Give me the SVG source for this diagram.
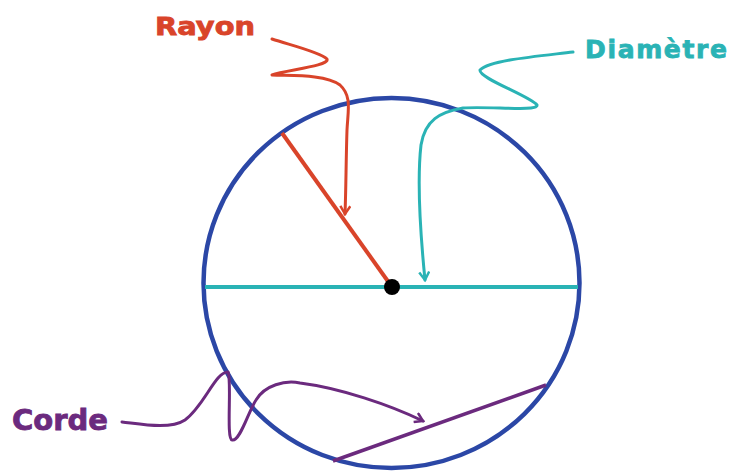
<svg xmlns="http://www.w3.org/2000/svg" width="736" height="472" viewBox="0 0 736 472">
<defs>
<style>
.lbl{font-family:"DejaVu Sans","Liberation Sans",sans-serif;font-weight:bold;stroke-width:0.8;}
.cn{fill:none;stroke-width:3;stroke-linecap:round;stroke-linejoin:round;}
</style>
<marker id="arR" markerWidth="12" markerHeight="12" refX="9" refY="6" orient="auto" markerUnits="userSpaceOnUse"><path d="M1,1 L9,6 L1,11" fill="none" stroke="#d9442a" stroke-width="2.5"/></marker>
<marker id="arT" markerWidth="12" markerHeight="12" refX="9" refY="6" orient="auto" markerUnits="userSpaceOnUse"><path d="M1,1 L9,6 L1,11" fill="none" stroke="#2ab3b5" stroke-width="2.5"/></marker>
<marker id="arP" markerWidth="12" markerHeight="12" refX="9" refY="6" orient="auto" markerUnits="userSpaceOnUse"><path d="M1,1 L9,6 L1,11" fill="none" stroke="#6b2a7e" stroke-width="2.5"/></marker>
</defs>
<rect width="736" height="472" fill="#ffffff"/>
<g id="circle">
<ellipse cx="391.5" cy="283" rx="188" ry="185" fill="none" stroke="#2b47a6" stroke-width="4.5"/>
<line x1="205" y1="287" x2="578" y2="287" stroke="#2ab3b5" stroke-width="4"/>
<line x1="282" y1="133" x2="392" y2="287" stroke="#d9442a" stroke-width="4"/>
<line x1="333" y1="461" x2="546" y2="385" stroke="#6b2a7e" stroke-width="3.5"/>
<circle cx="392" cy="287" r="8" fill="#000"/>
</g>
<g id="rayon">
<text class="lbl" x="155" y="35" font-size="24" fill="#d9442a" stroke="#d9442a" textLength="100" lengthAdjust="spacingAndGlyphs">Rayon</text>
</g>
<g id="diametre">
<text class="lbl" x="585" y="58" font-size="25" fill="#2ab3b5" stroke="#2ab3b5" textLength="142" lengthAdjust="spacing">Diamètre</text>
</g>
<g id="corde">
<text class="lbl" x="12" y="430" font-size="28" fill="#6b2a7e" stroke="#6b2a7e" textLength="96" lengthAdjust="spacingAndGlyphs">Corde</text>
</g>
<g id="connectors">
<path class="cn" stroke="#d9442a" marker-end="url(#arR)" d="M272,39 C290,45 320,52 327,59 C330,66 285,70 272,75 C290,76 325,74 340,85 C352,96 348,110 347,130 C346,160 346,190 345,214"/>
<path class="cn" stroke="#2ab3b5" marker-end="url(#arT)" d="M573,52 C540,56 490,60 480,70 C478,78 530,96 537,105 C538,112 490,106 463,108 C440,112 425,120 421,145 C417,180 420,230 425,280"/>
<path class="cn" stroke="#6b2a7e" marker-end="url(#arP)" d="M122,422 C140,424 170,430 185,420 C205,405 215,372 228,372 C232,380 226,440 232,440 C240,442 248,412 256,400 C265,385 285,380 300,383 C340,388 390,405 423,421"/>
</g>
</svg>
